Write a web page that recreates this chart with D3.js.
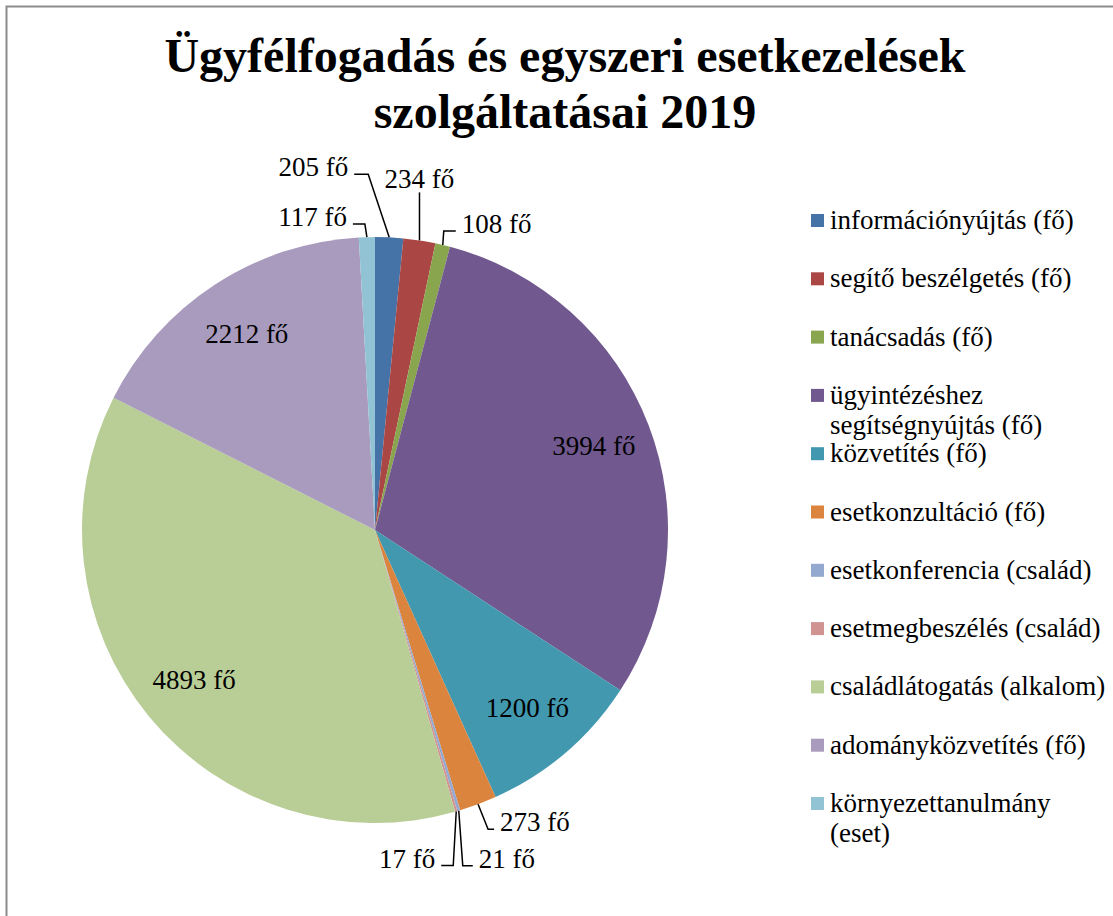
<!DOCTYPE html>
<html>
<head>
<meta charset="utf-8">
<script src="https://cdn.jsdelivr.net/npm/d3@7"></script>
<style>
  body { margin: 0; background: #fff; }
  svg text { font-family: "Liberation Serif", "Times New Roman", serif; fill: #000; }
</style>
</head>
<body>
<div id="chart"></div>
<script>
// categories and values (clockwise from 12 o'clock)
var categories = [
    "információnyújtás (fő)",
    "segítő beszélgetés (fő)",
    "tanácsadás (fő)",
    "ügyintézéshez segítségnyújtás (fő)",
    "közvetítés (fő)",
    "esetkonzultáció (fő)",
    "esetkonferencia (család)",
    "esetmegbeszélés (család)",
    "családlátogatás (alkalom)",
    "adományközvetítés (fő)",
    "környezettanulmány (eset)"
];
var values = [205, 234, 108, 3994, 1200, 273, 21, 17, 4893, 2212, 117];
var valueUnit = "fő";
var colors = ["#4572A7", "#AA4643", "#89A54E", "#71588F", "#4198AF", "#DB843D",
              "#93A9CF", "#D19392", "#B9CD96", "#A99BBD", "#92C3D4"];
var titleLines = ["Ügyfélfogadás és egyszeri esetkezelések", "szolgáltatásai 2019"];

// callout placement for the thin slices (relative to slice edge midpoint)
var callouts = {
    0:  { anchor: "end",    dx: -41, dy: -61, ex: -21 },
    1:  { anchor: "middle", dx: 0,   dy: -52, ex: 0 },
    2:  { anchor: "start",  dx: 19,  dy: -12, ex: 1 },
    5:  { anchor: "start",  dx: 22,  dy: 27,  ex: 10 },
    6:  { anchor: "start",  dx: 20,  dy: 57,  ex: 4 },
    7:  { anchor: "end",    dx: -21, dy: 56,  ex: -3 },
    10: { anchor: "end",    dx: -20, dy: -11, ex: -2 }
};

var width = 1113, height = 916;
var cx = 375, cy = 530, radius = 293;
var fontFamily = '"Liberation Serif", "Times New Roman", serif';
var textSize = 27;

var svg = d3.select("#chart").append("svg")
            .attr("width", width)
            .attr("height", height);

// chart border
svg.append("rect")
   .attr("x", 6.5).attr("y", 6.5)
   .attr("width", width + 10).attr("height", height + 10)
   .attr("fill", "#fff")
   .attr("stroke", "#8c8c8c")
   .attr("stroke-width", 2);

// title
svg.append("g").selectAll("text")
   .data(titleLines)
   .enter().append("text")
   .attr("x", 565)
   .attr("y", function(d, i) { return 72 + i * 56; })
   .attr("text-anchor", "middle")
   .attr("font-family", fontFamily)
   .attr("font-weight", "bold")
   .attr("font-size", 48)
   .text(function(d) { return d; });

var pie = d3.pie().sort(null).value(function(d) { return d; });
var arcs = pie(values);
var arc = d3.arc().innerRadius(0).outerRadius(radius);
var labelArc = d3.arc().innerRadius(radius * 0.8).outerRadius(radius * 0.8);

var g = svg.append("g").attr("transform", "translate(" + cx + "," + cy + ")");

g.selectAll(".slice")
 .data(arcs)
 .enter().append("path")
 .attr("class", "slice")
 .attr("d", arc)
 .attr("fill", function(d, i) { return colors[i]; });

// inside labels for big slices
g.selectAll(".inlabel")
 .data(arcs.filter(function(d, i) { return !callouts[i]; }))
 .enter().append("text")
 .attr("class", "inlabel")
 .attr("transform", function(d) { return "translate(" + labelArc.centroid(d) + ")"; })
 .attr("text-anchor", "middle")
 .attr("dy", "0.35em")
 .attr("font-family", fontFamily)
 .attr("font-size", textSize)
 .text(function(d) { return d.value + " " + valueUnit; });

// outside labels with leader lines
arcs.forEach(function(d, i) {
    var c = callouts[i];
    if (!c) return;
    var mid = (d.startAngle + d.endAngle) / 2;
    var px = radius * Math.sin(mid), py = -radius * Math.cos(mid);
    var tx = px + c.dx, ty = py + c.dy;
    var pts;
    if (c.anchor === "middle") {
        pts = [[px, py], [px, ty + 4]];
    } else {
        var edge = c.anchor === "end" ? tx + 6 : tx - 6;
        pts = [[px, py], [px + c.ex, ty - 2], [edge, ty - 2]];
    }
    g.append("path")
     .attr("d", d3.line()(pts))
     .attr("fill", "none")
     .attr("stroke", "#000")
     .attr("stroke-width", 1.5);
    g.append("text")
     .attr("x", tx).attr("y", ty)
     .attr("text-anchor", c.anchor)
     .attr("font-family", fontFamily)
     .attr("font-size", textSize)
     .text(d.value + " " + valueUnit);
});

// legend
var legend = svg.append("g").attr("transform", "translate(811,0)");
var legendTop = 229, legendStep = 58.3, maxTextWidth = 280;

categories.forEach(function(name, i) {
    var y = legendTop + i * legendStep;
    legend.append("rect")
          .attr("x", 0).attr("y", y - 15)
          .attr("width", 13).attr("height", 13)
          .attr("fill", colors[i]);
    var t = legend.append("text")
                  .attr("x", 19).attr("y", y)
                  .attr("font-family", fontFamily)
                  .attr("font-size", textSize)
                  .text(name);
    if (t.node().getComputedTextLength() > maxTextWidth) {
        var words = name.split(" ");
        var line2 = [];
        while (words.length > 1 && t.node().getComputedTextLength() > maxTextWidth) {
            line2.unshift(words.pop());
            t.text(words.join(" "));
        }
        legend.append("text")
              .attr("x", 19).attr("y", y + 30)
              .attr("font-family", fontFamily)
              .attr("font-size", textSize)
              .text(line2.join(" "));
    }
});
</script>
</body>
</html>
